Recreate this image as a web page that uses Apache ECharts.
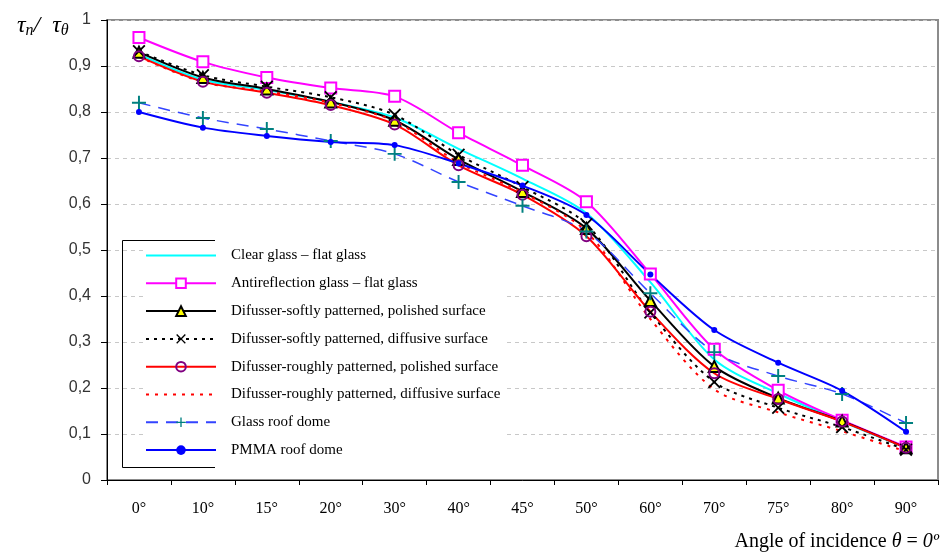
<!DOCTYPE html>
<html>
<head>
<meta charset="utf-8">
<script src="https://cdn.jsdelivr.net/npm/echarts@6/dist/echarts.min.js"></script>
<style>
  html, body { margin: 0; padding: 0; background: #fff; }
  #main { width: 943px; height: 559px; }
</style>
</head>
<body>
<div id="main"></div>
<script>
// angles on the x axis
const angles = ['0°', '10°', '15°', '20°', '30°', '40°', '45°', '50°', '60°', '70°', '75°', '80°', '90°'];

// ratio tau_n / tau_theta for every glazing
const clearGlass      = [0.925, 0.870, 0.848, 0.822, 0.788, 0.720, 0.655, 0.580, 0.430, 0.262, 0.188, 0.127, 0.070];
const antiReflection  = [0.962, 0.909, 0.875, 0.852, 0.834, 0.755, 0.684, 0.605, 0.448, 0.284, 0.195, 0.130, 0.072];
const softPolished    = [0.930, 0.875, 0.850, 0.822, 0.782, 0.697, 0.627, 0.547, 0.390, 0.247, 0.178, 0.128, 0.070];
const softDiffusive   = [0.932, 0.880, 0.855, 0.832, 0.794, 0.707, 0.637, 0.556, 0.364, 0.213, 0.157, 0.115, 0.066];
const roughPolished   = [0.921, 0.866, 0.842, 0.815, 0.773, 0.684, 0.620, 0.530, 0.366, 0.232, 0.176, 0.127, 0.070];
const roughDiffusive  = [0.920, 0.865, 0.845, 0.820, 0.780, 0.690, 0.625, 0.540, 0.350, 0.197, 0.147, 0.106, 0.062];
const glassDome       = [0.820, 0.787, 0.763, 0.737, 0.709, 0.648, 0.596, 0.540, 0.406, 0.278, 0.226, 0.187, 0.124];
const pmmaDome        = [0.800, 0.766, 0.748, 0.735, 0.728, 0.688, 0.640, 0.576, 0.447, 0.326, 0.255, 0.194, 0.105];

const names = ['Clear glass – flat glass', 'Antireflection glass – flat glass',
    'Difusser-softly patterned, polished surface', 'Difusser-softly patterned, diffusive surface',
    'Difusser-roughly patterned, polished surface', 'Difusser-roughly patterned, diffusive surface',
    'Glass roof dome', 'PMMA roof dome'];

const serif = '"Liberation Serif", "DejaVu Serif", serif';
const crossPath = 'path://M0,1L1,0L5,4L9,0L10,1L6,5L10,9L9,10L5,6L1,10L0,9L4,5Z';
const plusPath = 'path://M4.3,0H5.7V4.3H10V5.7H5.7V10H4.3V5.7H0V4.3H4.3Z';

let chart = echarts.init(document.getElementById('main'), null, {renderer: 'canvas'});

function line(name, data, opts) {
    return Object.assign({
        name: name, type: 'line', data: data, smooth: 0.3,
        symbol: 'none', symbolSize: 8
    }, opts);
}

// legend entries, the plain lines get no marker
let legendData = names.map(function (n, i) {
    if (i === 0 || i === 5) {
        return {name: n, itemStyle: {opacity: 0}};
    }
    return {name: n};
});

let option = {
    animation: false,
    backgroundColor: '#fff',
    title: {
        text: '{t|τ}{s|n}{t|/  τ}{s|θ}',
        left: 12, top: 8,
        textStyle: {
            rich: {
                t: {fontFamily: serif, fontStyle: 'italic', fontWeight: 'normal', fontSize: 24, color: '#000'},
                s: {fontFamily: serif, fontStyle: 'italic', fontWeight: 'normal', fontSize: 16, color: '#000', verticalAlign: 'bottom', padding: [10, 0, 0, 0]}
            }
        }
    },
    grid: {
        left: 107, right: 5, top: 20, bottom: 79,
        show: true, borderColor: '#8c8c8c', borderWidth: 2
    },
    legend: {
        orient: 'vertical',
        left: 145, top: 248,
        itemWidth: 70, itemHeight: 12, itemGap: 12.8,
        backgroundColor: '#fff',
        padding: [0, 6, 0, 0],
        textStyle: {fontFamily: serif, fontSize: 15, color: '#000', padding: [0, 0, 0, 10], lineHeight: 14},
        data: legendData
    },
    graphic: [
        {
            type: 'polyline', z: 100,
            shape: {points: [[215, 240.5], [122.5, 240.5], [122.5, 467.5], [215, 467.5]]},
            style: {stroke: '#000', fill: null, lineWidth: 1}
        },
        {
            type: 'text', right: 4, top: 532, z: 100,
            style: {
                text: '{n|Angle of incidence }{i|θ}{n| = }{i|0º}',
                rich: {
                    n: {fontFamily: serif, fontSize: 20, fill: '#000'},
                    i: {fontFamily: serif, fontSize: 20, fontStyle: 'italic', fill: '#000'}
                }
            }
        }
    ],
    xAxis: {
        type: 'category', data: angles, boundaryGap: true,
        axisLine: {lineStyle: {color: '#000', width: 1}},
        axisTick: {show: true, length: 5, lineStyle: {color: '#000'}},
        axisLabel: {fontFamily: serif, fontSize: 16, color: '#000', margin: 21},
        splitLine: {show: false}
    },
    yAxis: {
        type: 'value', min: 0, max: 1, interval: 0.1,
        axisLine: {show: true, lineStyle: {color: '#000', width: 1}},
        axisTick: {show: true, length: 6, lineStyle: {color: '#000'}},
        axisLabel: {
            fontFamily: '"Liberation Sans", Arial, sans-serif', fontSize: 16, color: '#333', margin: 16,
            formatter: v => v === 0 || v === 1 ? String(v) : v.toFixed(1).replace('.', ',')
        },
        splitLine: {show: true, lineStyle: {color: '#c8c8c8', type: [4, 4], width: 1}}
    },
    series: [
        line(names[0], clearGlass, {
            lineStyle: {color: '#00ffff', width: 2}, itemStyle: {color: '#00ffff'}
        }),
        line(names[1], antiReflection, {
            symbol: 'rect', symbolSize: 11,
            lineStyle: {color: '#ff00ff', width: 2},
            itemStyle: {color: '#fff', borderColor: '#ff00ff', borderWidth: 2}
        }),
        line(names[2], softPolished, {
            symbol: 'triangle', symbolSize: 11,
            lineStyle: {color: '#000', width: 2},
            itemStyle: {color: '#ffff00', borderColor: '#000', borderWidth: 2}
        }),
        line(names[3], softDiffusive, {
            symbol: crossPath, symbolSize: 13,
            lineStyle: {color: '#000', width: 2, type: [3, 5]},
            itemStyle: {color: '#000'}
        }),
        line(names[4], roughPolished, {
            symbol: 'circle', symbolSize: 10,
            lineStyle: {color: '#ff0000', width: 2},
            itemStyle: {color: 'rgba(255,255,255,0)', borderColor: '#800080', borderWidth: 2}
        }),
        line(names[5], roughDiffusive, {
            lineStyle: {color: '#ff0000', width: 2, type: [3, 6]},
            itemStyle: {color: '#ff0000'}
        }),
        line(names[6], glassDome, {
            symbol: plusPath, symbolSize: 14,
            lineStyle: {color: '#3344ff', width: 1.5, type: [12, 8]},
            itemStyle: {color: '#008080'}
        }),
        line(names[7], pmmaDome, {
            symbol: 'circle', symbolSize: 6,
            lineStyle: {color: '#0000ff', width: 2},
            itemStyle: {color: '#0000ff'}
        })
    ]
};

chart.setOption(option);
</script>
</body>
</html>
